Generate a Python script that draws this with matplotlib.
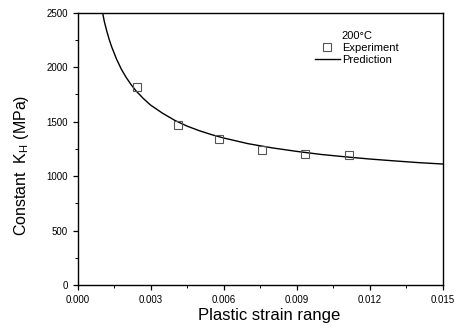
import numpy as np
import matplotlib
matplotlib.use('Agg')
import matplotlib.pyplot as plt
from matplotlib.ticker import MultipleLocator

plt.rcParams['font.family'] = ['Liberation Sans', 'DejaVu Sans']

exp_strain = [0.00243, 0.00414, 0.00583, 0.00759, 0.00935, 0.01116]
exp_k = [1815, 1468, 1337, 1238, 1202, 1190]

# Prediction curve, values
pred_strain = [0.00103, 0.0011, 0.0012, 0.0013, 0.0014, 0.0016, 0.0018, 0.0020,
               0.0022, 0.0024, 0.0027, 0.0030, 0.0035, 0.0040, 0.0045, 0.0050,
               0.0055, 0.0060, 0.0070, 0.0080, 0.0090, 0.0100, 0.0110, 0.0120,
               0.0130, 0.0140, 0.0150]
pred_k = [2500, 2419, 2331, 2254, 2187, 2074, 1980, 1904,
          1839, 1782, 1712, 1651, 1575, 1510, 1458, 1416,
          1380, 1349, 1297, 1258, 1226, 1198, 1176, 1156,
          1139, 1123, 1110]

fig = plt.figure(figsize=(4.63, 3.33), dpi=100)
ax = fig.add_axes([0.1674, 0.1441, 0.7888, 0.8183])

ax.plot(pred_strain, pred_k, color='black', lw=1.0, label='Prediction')
ax.plot(exp_strain, exp_k, linestyle='none', marker='s', markersize=5.5,
        markerfacecolor='none', markeredgecolor='#555555', markeredgewidth=0.8,
        label='Experiment')

ax.set_xlim(0, 0.015)
ax.set_ylim(0, 2500)
ax.xaxis.set_major_locator(MultipleLocator(0.003))
ax.xaxis.set_minor_locator(MultipleLocator(0.0015))
ax.yaxis.set_major_locator(MultipleLocator(500))
ax.yaxis.set_minor_locator(MultipleLocator(250))
ax.xaxis.set_major_formatter(plt.FormatStrFormatter('%.3f'))
ax.tick_params(which='major', direction='out', length=3.5, width=0.9, labelsize=7)
ax.tick_params(which='minor', direction='out', length=2, width=0.7)
for s in ax.spines.values():
    s.set_linewidth(1.0)

ax.set_xlabel('Plastic strain range', fontsize=12)
ax.set_ylabel(r'Constant  K$_{\mathregular{H}}$ (MPa)', fontsize=11.5)
ax.xaxis.set_label_coords(0.525, -0.085)
ax.yaxis.set_label_coords(-0.127, 0.44)

handles, labels = ax.get_legend_handles_labels()
leg = ax.legend(handles[::-1], labels[::-1], title='200°C', frameon=False,
                fontsize=8, title_fontsize=8, loc='upper right',
                bbox_to_anchor=(0.90, 0.96), handlelength=2.2, handletextpad=0.2,
                borderpad=0.2, labelspacing=0.15)

fig.savefig('out.png', dpi=100)
